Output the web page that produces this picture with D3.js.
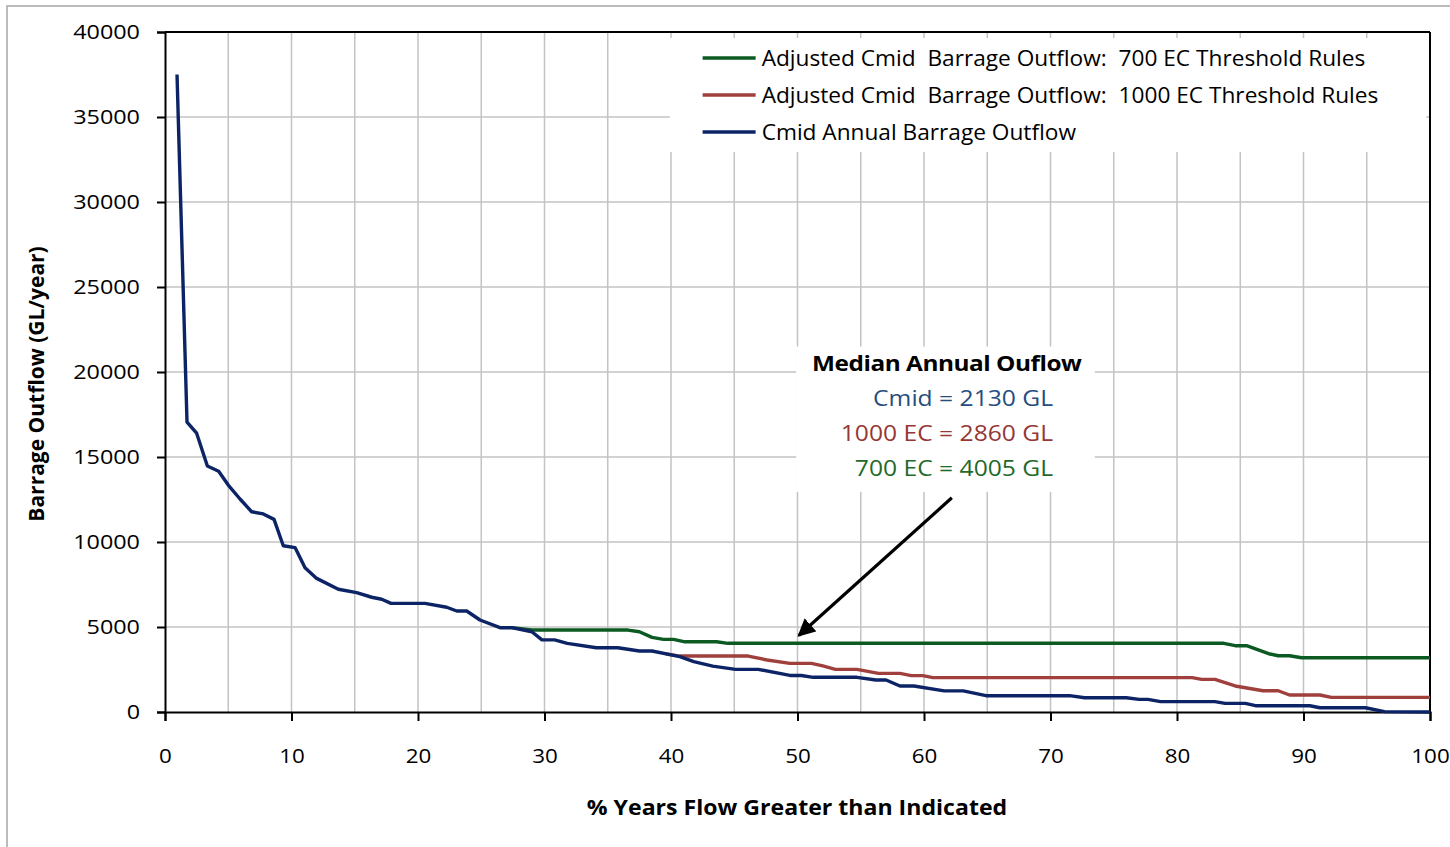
<!DOCTYPE html>
<html>
<head>
<meta charset="utf-8">
<script src="https://cdn.jsdelivr.net/npm/d3@7"></script>
<style>
  body { margin: 0; background: #fff; }
  text { font-family: "Open Sans", sans-serif; }
</style>
</head>
<body>
<script>
  // series: [% years flow greater than, barrage outflow GL/year]
  const cmidSeries = [
    [0.95, 37500], [1.74, 17050], [2.5, 16400], [3.35, 14470], [4.24, 14160], [5.0, 13350],
    [5.93, 12530], [6.85, 11780], [7.77, 11650], [8.62, 11330], [9.35, 9780], [10.28, 9670],
    [11.07, 8490], [11.99, 7860], [13.7, 7220], [15.15, 7020], [16.34, 6750], [17.13, 6630],
    [17.87, 6390], [20.55, 6390], [22.27, 6160], [23.06, 5940], [23.85, 5940], [24.9, 5410],
    [26.48, 4960], [27.4, 4960], [29.0, 4720], [29.8, 4240], [30.8, 4240], [31.8, 4040],
    [34.1, 3780], [35.8, 3780], [37.5, 3590], [38.5, 3590], [40.7, 3260], [41.8, 2960],
    [43.3, 2700], [45.1, 2510], [46.9, 2510], [49.4, 2150], [50.3, 2150], [51.25, 2040],
    [54.7, 2040], [56.2, 1880], [57.0, 1880], [58.1, 1530], [59.2, 1530], [61.6, 1240],
    [63.1, 1240], [64.9, 960], [71.5, 960], [72.7, 840], [76.0, 840], [77.0, 740],
    [77.7, 740], [78.7, 610], [83.0, 610], [83.8, 510], [85.4, 510], [86.2, 370],
    [90.5, 370], [91.3, 250], [94.9, 250], [96.4, 20], [100, 0]
  ];
  const ec1000Series = [
    [39.6, 3420], [40.7, 3290], [46.1, 3290], [47.6, 3060], [49.4, 2860], [51.1, 2860],
    [52.0, 2710], [53.0, 2510], [54.7, 2510], [56.4, 2270], [58.1, 2270], [59.0, 2140],
    [59.9, 2140], [60.7, 2020], [81.2, 2020], [81.95, 1920], [83.0, 1920], [84.6, 1530],
    [86.8, 1250], [88.0, 1250], [88.9, 1000], [91.3, 1000], [92.2, 860], [100, 860]
  ];
  const ec700Series = [
    [27.4, 4960], [29.0, 4820], [36.6, 4820], [37.5, 4720], [38.5, 4390], [39.4, 4270],
    [40.2, 4270], [41.1, 4130], [43.6, 4130], [44.5, 4040], [83.7, 4040], [84.6, 3900],
    [85.5, 3900], [87.35, 3410], [88.0, 3310], [88.9, 3310], [89.85, 3190], [100, 3190]
  ];
  const seriesNames = [
    "Adjusted Cmid  Barrage Outflow:  700 EC Threshold Rules",
    "Adjusted Cmid  Barrage Outflow:  1000 EC Threshold Rules",
    "Cmid Annual Barrage Outflow"
  ];
  const medianLabels = ["Cmid = 2130 GL", "1000 EC = 2860 GL", "700 EC = 4005 GL"];
  const xTicks = [0, 10, 20, 30, 40, 50, 60, 70, 80, 90, 100];
  const yTicks = [0, 5000, 10000, 15000, 20000, 25000, 30000, 35000, 40000];

  const colors = { green: '#0b5a22', red: '#a0403d', navy: '#0c2466',
                   textBlue: '#264d7e', textRed: '#953735', textGreen: '#1f6a29' };

  const W = 1450, H = 847;
  const margin = { top: 32, right: 20, bottom: 135, left: 165 };
  const width = 1430 - margin.left, height = 712 - margin.top;

  // widen text horizontally like the original (stretched) picture
  function stretch(sel, sx) {
    sel.each(function() {
      const t = d3.select(this);
      const tx = +t.attr('x') || 0, ty = +t.attr('y') || 0;
      t.attr('x', 0).attr('y', 0)
        .attr('transform', `translate(${tx}, ${ty}) scale(${sx}, 1)`);
    });
  }

  const svg = d3.select('body').append('svg')
    .attr('width', W).attr('height', H);

  // outer chart border
  svg.append('rect')
    .attr('x', 7).attr('y', 6).attr('width', 1600).attr('height', 1000)
    .attr('fill', 'none').attr('stroke', '#a6a6a6').attr('stroke-width', 1.5);

  const g = svg.append('g').attr('transform', `translate(${margin.left}, ${margin.top})`);

  const x = d3.scaleLinear().domain([0, 100]).range([0, width]);
  const y = d3.scaleLinear().domain([0, 40000]).range([height, 0]);

  // gridlines
  g.append('g').selectAll('line')
    .data(d3.range(5, 100, 5))
    .join('line')
      .attr('x1', d => x(d)).attr('x2', d => x(d))
      .attr('y1', 0).attr('y2', height)
      .attr('stroke', '#c3c3c3').attr('stroke-width', 1.5);
  g.append('g').selectAll('line')
    .data(yTicks.slice(1, -1))
    .join('line')
      .attr('x1', 0).attr('x2', width)
      .attr('y1', d => y(d)).attr('y2', d => y(d))
      .attr('stroke', '#c3c3c3').attr('stroke-width', 1.5);

  // legend box (covers gridlines)
  g.append('rect')
    .attr('x', x(39.9)).attr('y', 6).attr('width', x(99.7) - x(39.9)).attr('height', 114)
    .attr('fill', '#fff');

  // annotation box
  g.append('rect')
    .attr('x', x(49.9)).attr('y', y(21500)).attr('width', x(73.5) - x(49.9))
    .attr('height', y(12950) - y(21500))
    .attr('fill', '#fff');

  // axes
  const xAxis = d3.axisBottom(x).tickValues(xTicks).tickSize(9).tickPadding(28)
    .tickFormat(d3.format('d'));
  const yAxis = d3.axisLeft(y).tickValues(yTicks).tickSize(8).tickPadding(17)
    .tickFormat(d3.format('d'));

  const gx = g.append('g').attr('transform', `translate(0, ${height})`).call(xAxis);
  const gy = g.append('g').call(yAxis);
  [gx, gy].forEach(a => {
    a.select('.domain').attr('stroke', '#000').attr('stroke-width', 2);
    a.selectAll('.tick line').attr('stroke', '#000').attr('stroke-width', 2);
    a.selectAll('.tick text').style('font-size', '20px').attr('fill', '#000');
  });
  stretch(gx.selectAll('.tick text'), 1.12);
  stretch(gy.selectAll('.tick text'), 1.17);

  // top and right frame
  g.append('line').attr('x1', 0).attr('x2', width).attr('y1', 0).attr('y2', 0)
    .attr('stroke', '#000').attr('stroke-width', 2);
  g.append('line').attr('x1', width).attr('x2', width).attr('y1', 0).attr('y2', height)
    .attr('stroke', '#000').attr('stroke-width', 2);

  // lines
  const line = d3.line().x(d => x(d[0])).y(d => y(d[1]));
  const lineData = [
    { data: ec700Series, color: colors.green },
    { data: ec1000Series, color: colors.red },
    { data: cmidSeries, color: colors.navy }
  ];
  g.selectAll('path.series')
    .data(lineData)
    .join('path')
      .attr('class', 'series')
      .attr('d', d => line(d.data))
      .attr('fill', 'none')
      .attr('stroke', d => d.color)
      .attr('stroke-width', 3.4)
      .attr('stroke-linejoin', 'round');

  // legend
  const legend = g.append('g').attr('transform', `translate(${x(42.5)}, 26)`);
  const legendColors = [colors.green, colors.red, colors.navy];
  seriesNames.forEach((name, i) => {
    const row = legend.append('g').attr('transform', `translate(0, ${i * 37})`);
    row.append('line').attr('x1', 0).attr('x2', 53).attr('y1', 0).attr('y2', 0)
      .attr('stroke', legendColors[i]).attr('stroke-width', 3.4);
    const t = row.append('text').attr('x', 59).attr('y', 0).attr('dy', '0.35em')
      .style('font-size', '21.5px').style('white-space', 'pre').attr('fill', '#000')
      .text(name);
    stretch(t, 1.055);
  });

  // median annotation
  const title = g.append('text')
    .attr('x', x(61.8)).attr('y', y(20470)).attr('dy', '0.35em')
    .attr('text-anchor', 'middle')
    .style('font-size', '21px').style('font-weight', 'bold').style('letter-spacing', '-0.4px')
    .text('Median Annual Ouflow');
  stretch(title, 1.16);
  const medianColors = [colors.textBlue, colors.textRed, colors.textGreen];
  medianLabels.forEach((t, i) => {
    const lab = g.append('text')
      .attr('x', x(70.2)).attr('y', y(18470 - i * 2060)).attr('dy', '0.35em')
      .attr('text-anchor', 'end')
      .style('font-size', '22px').attr('fill', medianColors[i])
      .text(t);
    stretch(lab, 1.12);
  });

  // arrow
  svg.append('defs').append('marker')
    .attr('id', 'arrowhead').attr('viewBox', '0 0 10 10')
    .attr('refX', 9).attr('refY', 5)
    .attr('markerWidth', 5.5).attr('markerHeight', 5.5)
    .attr('markerUnits', 'strokeWidth')
    .attr('orient', 'auto')
    .append('path').attr('d', 'M0,0 L10,5 L0,10 z').attr('fill', '#000');
  g.append('line')
    .attr('x1', x(62.2)).attr('y1', y(12600))
    .attr('x2', x(50.1)).attr('y2', y(4500))
    .attr('stroke', '#000').attr('stroke-width', 3.2)
    .attr('marker-end', 'url(#arrowhead)');

  // axis titles
  svg.append('text')
    .attr('transform', `translate(37, ${margin.top + height / 2 + 12}) rotate(-90)`)
    .attr('text-anchor', 'middle').attr('dy', '0.35em')
    .style('font-size', '21px').style('font-weight', 'bold')
    .text('Barrage Outflow (GL/year)');
  const xTitle = svg.append('text')
    .attr('x', 797).attr('y', 807).attr('dy', '0.35em')
    .attr('text-anchor', 'middle')
    .style('font-size', '22px').style('font-weight', 'bold')
    .text('% Years Flow Greater than Indicated');
  stretch(xTitle, 1.05);
</script>
</body>
</html>
